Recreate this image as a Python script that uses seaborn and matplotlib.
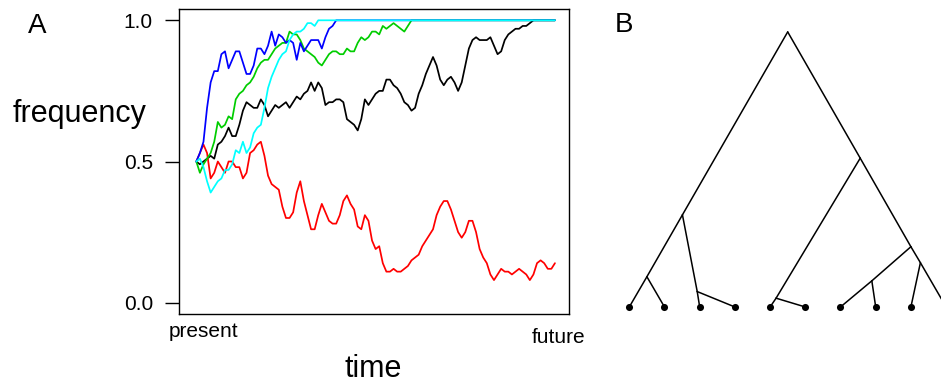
import numpy as np
import pandas as pd
import matplotlib
matplotlib.use("Agg")
import matplotlib.pyplot as plt
import seaborn as sns

# ---- allele frequency trajectories (one value per generation) ----
freq_black = [0.50, 0.49, 0.50, 0.51, 0.52, 0.51, 0.56, 0.57, 0.59, 0.62,
              0.59, 0.59, 0.63, 0.68, 0.71, 0.70, 0.69, 0.69, 0.72, 0.70,
              0.66, 0.68, 0.70, 0.69, 0.70, 0.71, 0.69, 0.71, 0.73, 0.72,
              0.74, 0.75, 0.78, 0.75, 0.78, 0.76, 0.70, 0.71, 0.71, 0.72,
              0.72, 0.71, 0.65, 0.64, 0.63, 0.61, 0.65, 0.72, 0.70, 0.72,
              0.74, 0.75, 0.75, 0.79, 0.79, 0.77, 0.76, 0.74, 0.71, 0.70,
              0.68, 0.69, 0.74, 0.77, 0.81, 0.84, 0.87, 0.84, 0.79, 0.77,
              0.79, 0.80, 0.78, 0.75, 0.78, 0.84, 0.90, 0.93, 0.94, 0.93,
              0.93, 0.93, 0.94, 0.91, 0.88, 0.89, 0.93, 0.95, 0.96, 0.97,
              0.97, 0.98, 0.98, 0.99, 1.00, 1.00, 1.00, 1.00, 1.00, 1.00,
              1.00]

freq_red = [0.50, 0.53, 0.56, 0.53, 0.44, 0.46, 0.50, 0.48, 0.46, 0.50,
            0.50, 0.48, 0.48, 0.44, 0.46, 0.53, 0.54, 0.56, 0.57, 0.52,
            0.45, 0.42, 0.41, 0.40, 0.34, 0.30, 0.30, 0.32, 0.39, 0.43,
            0.36, 0.31, 0.26, 0.26, 0.31, 0.35, 0.32, 0.29, 0.28, 0.28,
            0.31, 0.36, 0.38, 0.35, 0.33, 0.27, 0.26, 0.31, 0.29, 0.22,
            0.19, 0.20, 0.14, 0.11, 0.11, 0.12, 0.11, 0.11, 0.12, 0.13,
            0.15, 0.16, 0.17, 0.20, 0.22, 0.24, 0.26, 0.31, 0.34, 0.36,
            0.36, 0.33, 0.29, 0.25, 0.23, 0.25, 0.29, 0.29, 0.25, 0.19,
            0.16, 0.14, 0.10, 0.08, 0.10, 0.12, 0.11, 0.11, 0.10, 0.11,
            0.12, 0.11, 0.10, 0.08, 0.10, 0.14, 0.15, 0.14, 0.12, 0.12,
            0.14]

freq_green = [0.50, 0.46, 0.49, 0.51, 0.53, 0.57, 0.64, 0.62, 0.63, 0.66,
              0.65, 0.72, 0.74, 0.75, 0.77, 0.78, 0.80, 0.83, 0.85, 0.86,
              0.86, 0.88, 0.90, 0.91, 0.92, 0.92, 0.96, 0.95, 0.95, 0.93,
              0.90, 0.89, 0.88, 0.87, 0.85, 0.84, 0.86, 0.88, 0.89, 0.89,
              0.88, 0.88, 0.90, 0.89, 0.89, 0.92, 0.94, 0.93, 0.94, 0.96,
              0.96, 0.95, 0.98, 0.97, 0.98, 0.99, 0.98, 0.97, 0.96, 0.98,
              1.00, 1.00, 1.00, 1.00, 1.00, 1.00, 1.00, 1.00, 1.00, 1.00,
              1.00, 1.00, 1.00, 1.00, 1.00, 1.00, 1.00, 1.00, 1.00, 1.00,
              1.00, 1.00, 1.00, 1.00, 1.00, 1.00, 1.00, 1.00, 1.00, 1.00,
              1.00, 1.00, 1.00, 1.00, 1.00, 1.00, 1.00, 1.00, 1.00, 1.00,
              1.00]

freq_blue = [0.50, 0.53, 0.57, 0.69, 0.78, 0.82, 0.82, 0.88, 0.89, 0.83,
             0.86, 0.89, 0.89, 0.85, 0.81, 0.81, 0.84, 0.90, 0.90, 0.88,
             0.91, 0.96, 0.91, 0.95, 0.94, 0.92, 0.93, 0.92, 0.86, 0.92,
             0.89, 0.91, 0.93, 0.93, 0.93, 0.90, 0.94, 0.97, 0.98, 1.00,
             1.00, 1.00, 1.00, 1.00, 1.00, 1.00, 1.00, 1.00, 1.00, 1.00,
             1.00, 1.00, 1.00, 1.00, 1.00, 1.00, 1.00, 1.00, 1.00, 1.00,
             1.00, 1.00, 1.00, 1.00, 1.00, 1.00, 1.00, 1.00, 1.00, 1.00,
             1.00, 1.00, 1.00, 1.00, 1.00, 1.00, 1.00, 1.00, 1.00, 1.00,
             1.00, 1.00, 1.00, 1.00, 1.00, 1.00, 1.00, 1.00, 1.00, 1.00,
             1.00, 1.00, 1.00, 1.00, 1.00, 1.00, 1.00, 1.00, 1.00, 1.00,
             1.00]

freq_cyan = [0.50, 0.51, 0.48, 0.43, 0.39, 0.41, 0.43, 0.44, 0.47, 0.47,
             0.49, 0.54, 0.53, 0.57, 0.53, 0.55, 0.60, 0.62, 0.63, 0.69,
             0.76, 0.80, 0.83, 0.86, 0.88, 0.89, 0.93, 0.95, 0.96, 0.96,
             0.97, 0.99, 0.99, 0.98, 1.00, 1.00, 1.00, 1.00, 1.00, 1.00,
             1.00, 1.00, 1.00, 1.00, 1.00, 1.00, 1.00, 1.00, 1.00, 1.00,
             1.00, 1.00, 1.00, 1.00, 1.00, 1.00, 1.00, 1.00, 1.00, 1.00,
             1.00, 1.00, 1.00, 1.00, 1.00, 1.00, 1.00, 1.00, 1.00, 1.00,
             1.00, 1.00, 1.00, 1.00, 1.00, 1.00, 1.00, 1.00, 1.00, 1.00,
             1.00, 1.00, 1.00, 1.00, 1.00, 1.00, 1.00, 1.00, 1.00, 1.00,
             1.00, 1.00, 1.00, 1.00, 1.00, 1.00, 1.00, 1.00, 1.00, 1.00,
             1.00]

alleles = ["black", "red", "green", "blue", "cyan"]
allele_colors = ["#000000", "#FF0000", "#00CD00", "#0000FF", "#00FFFF"]
freq_ticks = [0.0, 0.5, 1.0]
freq_tick_labels = ["0.0", "0.5", "1.0"]

# ---- genealogy: internal nodes (position in leaf units, height) ----
node_names = ["root", "L", "LL", "LR", "R", "RL", "RR", "RRL", "RRR"]
node_pos = [4.50, 1.51, 0.50, 1.93, 6.56, 4.17, 8.00, 6.89, 8.27]
node_height = [1.000, 0.335, 0.110, 0.056, 0.541, 0.032, 0.219, 0.095, 0.161]
leaf_pos = [0, 1, 2, 3, 4, 5, 6, 7, 8, 9]
leaf_height = [0, 0, 0, 0, 0, 0, 0, 0, 0, 0]
edges = [("root", "L"), ("root", "R"),
         ("L", "LL"), ("L", "LR"),
         ("LL", 0), ("LL", 1), ("LR", 2), ("LR", 3),
         ("R", "RL"), ("R", "RR"),
         ("RL", 4), ("RL", 5),
         ("RR", "RRL"), ("RR", "RRR"),
         ("RRL", 6), ("RRL", 7), ("RRR", 8), ("RRR", 9)]

# ---- figure setup ----
sns.set_style("white")
plt.rcParams["font.family"] = ["Liberation Sans", "DejaVu Sans"]
plt.rcParams["text.color"] = "black"

W, H = 941, 384
fig = plt.figure(figsize=(W / 100, H / 100), dpi=100)


def px_box(x0, y0, x1, y1):
    """Pixel box (origin top-left) -> figure fraction rect."""
    return [x0 / W, 1 - y1 / H, (x1 - x0) / W, (y1 - y0) / H]


# ---- panel A: frequency trajectories ----
series = [freq_black, freq_red, freq_green, freq_blue, freq_cyan]
frames = []
for name, vals in zip(alleles, series):
    frames.append(pd.DataFrame({"generation": np.arange(len(vals)),
                                "frequency": vals,
                                "allele": name}))
df = pd.concat(frames, ignore_index=True)

ax = fig.add_axes(px_box(179.3, 9, 569.3, 314))
sns.lineplot(data=df, x="generation", y="frequency", hue="allele",
             hue_order=alleles, palette=allele_colors, sort=False,
             legend=False, linewidth=1.25, ax=ax)
ax.set_xlim(-4.74, 104.0)
ax.set_ylim(-0.04, 1.04)
ax.set_xticks([])
ax.set_yticks(freq_ticks)
ax.set_yticklabels(freq_tick_labels)
ax.tick_params(axis="y", left=True, direction="out", length=10, width=1.0,
               pad=9, labelsize=15, colors="black")
ax.set_xlabel("")
ax.set_ylabel("")
for sp in ax.spines.values():
    sp.set_visible(True)
    sp.set_color("black")
    sp.set_linewidth(1.0)

fig.text(80 / W, 1 - 122 / H, "frequency", fontsize=22, ha="center",
         va="baseline", color="black")
fig.text(373 / W, 1 - 377 / H, "time", fontsize=22, ha="center",
         va="baseline", color="black")
fig.text(203 / W, 1 - 337 / H, "present", fontsize=15, ha="center",
         va="baseline", color="black")
fig.text(559 / W, 1 - 343 / H, "future", fontsize=15, ha="center",
         va="baseline", color="black")
fig.text(37 / W, 1 - 33 / H, "A", fontsize=20, ha="center", va="baseline",
         color="black")
fig.text(624 / W, 1 - 32 / H, "B", fontsize=20, ha="center", va="baseline",
         color="black")

# ---- panel B: genealogy ----
ax2 = fig.add_axes(px_box(600, 0, 941, 384))
ax2.set_xlim(-0.832, 8.855)
ax2.set_ylim(-0.28, 1.116)
ax2.axis("off")

coords = {n: (x, h) for n, x, h in zip(node_names, node_pos, node_height)}
for i, x, h in zip(range(len(leaf_pos)), leaf_pos, leaf_height):
    coords[i] = (x, h)

for parent, child in edges:
    (x0, y0), (x1, y1) = coords[parent], coords[child]
    ax2.plot([x0, x1], [y0, y1], color="black", linewidth=1.1,
             solid_capstyle="round")

sns.scatterplot(x=leaf_pos, y=leaf_height, color="black", s=26,
                edgecolor="black", linewidth=0, ax=ax2, legend=False,
                zorder=3)

fig.savefig("out.png", dpi=100)
